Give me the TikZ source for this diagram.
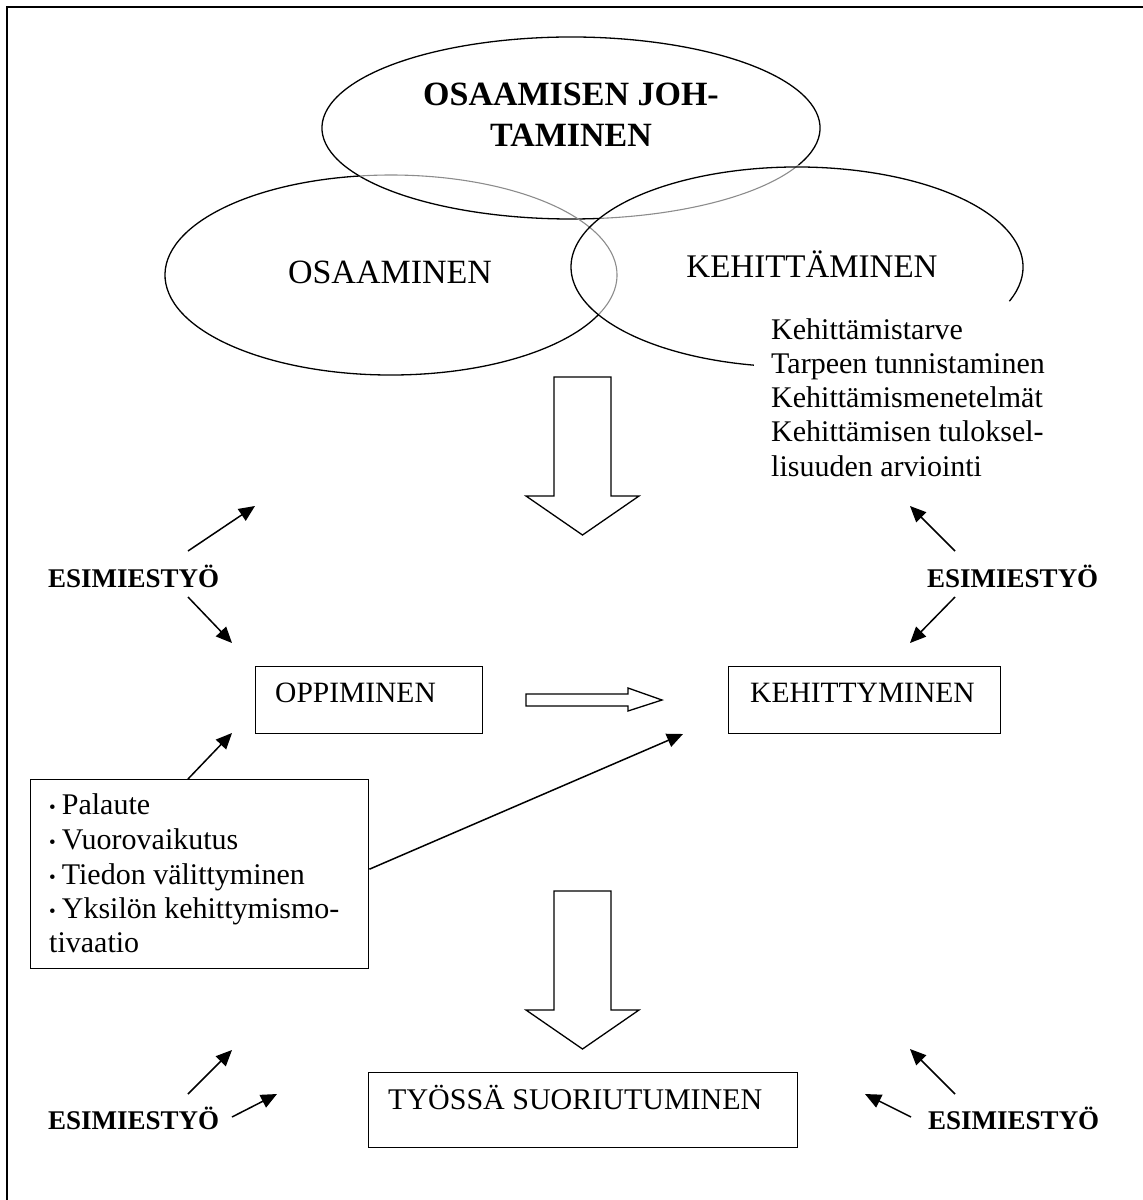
\documentclass[tikz,border=0pt]{standalone}
\usepackage{fontspec}
\setmainfont{Liberation Serif}
\usetikzlibrary{arrows.meta}
\begin{document}
\begin{tikzpicture}[x=1pt,y=1pt,
  line/.style={line width=1.3pt},
  frame/.style={line width=2.2pt},
  greyline/.style={line width=1.1pt, draw=black!45},
  arr/.style={line width=1.5pt, -{Triangle[length=16pt,width=14pt]}},
  box/.style={draw, line width=1.4pt, rectangle, inner sep=0pt, anchor=north west},
  hollow/.style={draw, line width=1.3pt, fill=white, line join=miter},
  biglabel/.style={inner sep=0pt, anchor=base, font=\fontsize{34}{40}\selectfont},
  title/.style={inner sep=0pt, anchor=base, font=\fontsize{34}{41}\selectfont\bfseries},
  txt/.style={inner sep=0pt, anchor=base west, font=\fontsize{30}{34}\selectfont},
  boxtext/.style={inner sep=0pt, anchor=base west, font=\fontsize{29.5}{34}\selectfont},
  boss/.style={inner sep=0pt, anchor=base west, font=\fontsize{27}{32}\selectfont\bfseries}]
\newcommand{\smallbullet}{{\fontsize{19}{19}\selectfont\raisebox{1pt}{•}}\hspace{6pt}}
\useasboundingbox (0,0) rectangle (1143,-1200);

% page frame
\draw[frame] (7,-1200) -- (7,-7) -- (1143,-7);

% ellipse centres
\coordinate (topc) at (571,-128);
\coordinate (osac) at (391,-275);
\coordinate (kehc) at (797,-267);

% top ellipse: grey where it lies inside the right ellipse
\draw[line] ([shift={(-24:249 and 91)}]topc)
  arc[start angle=-24, end angle=276.6, x radius=249, y radius=91];
\draw[greyline] ([shift={(-83.4:249 and 91)}]topc)
  arc[start angle=-83.4, end angle=-24, x radius=249, y radius=91];

% left ellipse: grey inside the two others
\draw[line] ([shift={(98:226 and 100)}]osac)
  arc[start angle=98, end angle=336.6, x radius=226, y radius=100];
\draw[greyline] ([shift={(-23.4:226 and 100)}]osac)
  arc[start angle=-23.4, end angle=98, x radius=226, y radius=100];

% right ellipse, open towards the list
\draw[line] ([shift={(-20:226 and 100)}]kehc)
  arc[start angle=-20, end angle=259, x radius=226, y radius=100];

% ellipse labels
\node[title] (title1) at (571,-105) {OSAAMISEN JOH-};
\node[title] (title2) at (571,-146) {TAMINEN};
\node[biglabel] (osa) at (390,-283) {OSAAMINEN};
\node[biglabel, font=\fontsize{33}{40}\selectfont] (keh) at (812,-277) {KEHITTÄMINEN};

% list beside the right ellipse
\node[txt] (k1) at (771,-339) {Kehittämistarve};
\node[txt] (k2) at (771,-373) {Tarpeen tunnistaminen};
\node[txt] (k3) at (771,-407) {Kehittämismenetelmät};
\node[txt] (k4) at (771,-441) {Kehittämisen tuloksel-};
\node[txt] (k5) at (771,-476) {lisuuden arviointi};

% big hollow arrows
\draw[hollow] (554,-377) -- (611,-377) -- (611,-496) -- (639,-496) -- (582.5,-535)
  -- (526,-496) -- (554,-496) -- cycle;
\draw[hollow] (554,-891) -- (611,-891) -- (611,-1010) -- (639,-1010) -- (582.5,-1049)
  -- (526,-1010) -- (554,-1010) -- cycle;

% boxes
\node[box, minimum width=227, minimum height=67] (opp) at (255,-666) {};
\node[boxtext] (opptext) at (275,-702) {OPPIMINEN};
\node[box, minimum width=272, minimum height=67] (kty) at (728,-666) {};
\node[boxtext] (ktytext) at (750,-702) {KEHITTYMINEN};
\node[box, minimum width=429, minimum height=75] (tyo) at (368,-1072) {};
\node[txt] (tyotext) at (388,-1109) {TYÖSSÄ SUORIUTUMINEN};
\node[box, minimum width=338, minimum height=189] (bul) at (30,-779) {};
\node[txt] (b1) at (49,-814) {\smallbullet Palaute};
\node[txt] (b2) at (49,-849) {\smallbullet Vuorovaikutus};
\node[txt] (b3) at (49,-884) {\smallbullet Tiedon välittyminen};
\node[txt] (b4) at (49,-918) {\smallbullet Yksilön kehittymismo-};
\node[txt] (b5) at (49,-952) {tivaatio};

% hollow arrow from learning to development
\draw[hollow] (526,-694) -- (628,-694) -- (628,-688) -- (662,-700) -- (628,-711)
  -- (628,-706) -- (526,-706) -- cycle;

% supervisor labels
\node[boss] (esL1) at (48,-587) {ESIMIESTYÖ};
\node[boss] (esR1) at (927,-587) {ESIMIESTYÖ};
\node[boss] (esL2) at (48,-1129) {ESIMIESTYÖ};
\node[boss] (esR2) at (928,-1129) {ESIMIESTYÖ};

% arrow ends
\coordinate (a1s) at (188,-551);  \coordinate (a1e) at (255,-506);
\coordinate (a2s) at (188,-597);  \coordinate (a2e) at (232,-643);
\coordinate (a3x) at (188,0);     \coordinate (a3e) at (232,-733);
\coordinate (a4e) at (683,-734);
\coordinate (r1s) at (955,-551);  \coordinate (r1e) at (910,-506);
\coordinate (r2s) at (955,-597);  \coordinate (r2e) at (910,-643);
\coordinate (l3s) at (188,-1094); \coordinate (l3e) at (232,-1050);
\coordinate (l4s) at (232,-1117); \coordinate (l4e) at (277,-1094);
\coordinate (r3s) at (955,-1094); \coordinate (r3e) at (910,-1049);
\coordinate (r4s) at (911,-1117); \coordinate (r4e) at (865,-1094);

\draw[arr] (a1s) -- (a1e);
\draw[arr] (a2s) -- (a2e);
\draw[arr] (bul.north -| a3x) -- (a3e);
\draw[arr] ([yshift=5pt]bul.east) -- (a4e);
\draw[arr] (r1s) -- (r1e);
\draw[arr] (r2s) -- (r2e);
\draw[arr] (l3s) -- (l3e);
\draw[arr] (l4s) -- (l4e);
\draw[arr] (r3s) -- (r3e);
\draw[arr] (r4s) -- (r4e);
\end{tikzpicture}
\end{document}
